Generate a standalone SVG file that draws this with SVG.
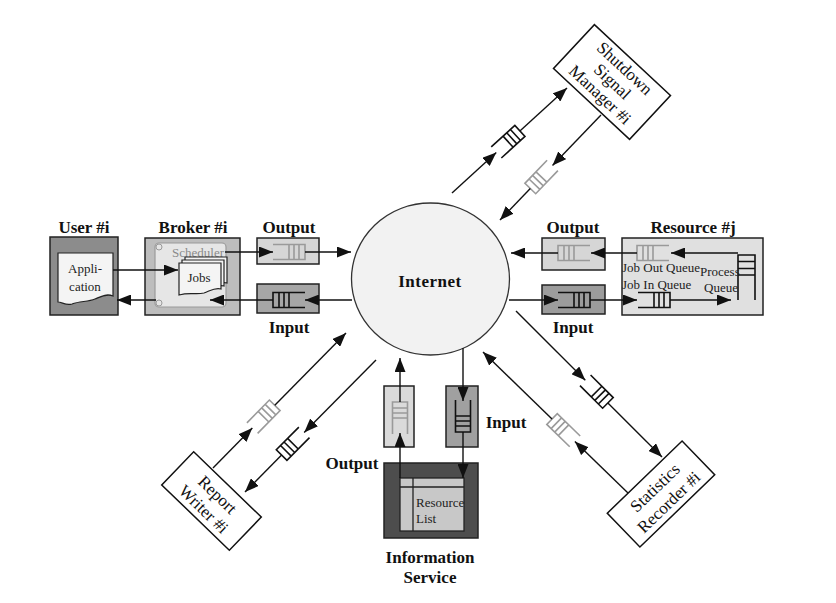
<svg xmlns="http://www.w3.org/2000/svg" xmlns:xlink="http://www.w3.org/1999/xlink" width="836" height="603" viewBox="0 0 836 603">
<style>
.box{stroke:#222;stroke-width:1.5}
.ln{stroke:#111;stroke-width:1.4;fill:none;marker-end:url(#ah)}
.lbl{font-family:"Liberation Serif","Times New Roman",serif;font-weight:bold;font-size:17px;text-anchor:middle;fill:#111}
.sm{font-family:"Liberation Serif","Times New Roman",serif;font-size:13px;fill:#222}
.rt{font-family:"Liberation Serif","Times New Roman",serif;font-size:17px;text-anchor:middle;fill:#111}
.qg{stroke:#9a9a9a;fill:none;stroke-width:1.6}
.qb{stroke:#111;fill:none;stroke-width:1.6}
.doc{fill:#f4f4f4;stroke:#222;stroke-width:1.2}
</style>
<defs>
<marker id="ah" markerUnits="userSpaceOnUse" markerWidth="14" markerHeight="11" refX="14" refY="5.5" orient="auto"><path d="M0,0 L14,5.5 L0,11 z" fill="#111"/></marker>
<g id="q"><path d="M-16,-7.5H16V7.5H-16M0,-7.5V7.5M5,-7.5V7.5M10,-7.5V7.5"/></g>
</defs>
<rect width="836" height="603" fill="#fff"/>

<g id="internet">
<ellipse cx="430.5" cy="279" rx="79" ry="76" fill="#f2f2f2" stroke="#333" stroke-width="1.3"/>
<text class="lbl" x="430" y="287" letter-spacing="0.5">Internet</text>
</g>

<g id="user">
<text class="lbl" x="84" y="233">User #i</text>
<rect class="box" x="50" y="237" width="68" height="78" fill="#8c8c8c"/>
<path class="doc" d="M58,253 H113 V296 C106,293 100,297 95,299 C88,302 80,301 72,304 C66,306 62,302 58,302 Z"/>
<text class="sm" x="85" y="273" text-anchor="middle">Appli-</text>
<text class="sm" x="85" y="291" text-anchor="middle">cation</text>
</g>

<g id="broker">
<text class="lbl" x="193" y="233">Broker #i</text>
<rect class="box" x="145" y="238" width="95" height="77" fill="#bdbdbd"/>
<rect x="155" y="243" width="71" height="64" rx="4" fill="#e6e6e6" stroke="#9a9a9a" stroke-width="1.2"/>
<circle cx="159" cy="247" r="3" fill="none" stroke="#9a9a9a"/>
<circle cx="159" cy="303" r="3" fill="none" stroke="#9a9a9a"/>
<text class="sm" x="198" y="257" text-anchor="middle" style="fill:#8a8a8a">Scheduler</text>
<path class="doc" d="M185,257 H227 V283 C221,281 216,285 210,287 C202,289 196,286 185,289 Z"/>
<path class="doc" d="M182,260 H224 V286 C218,284 213,288 207,290 C199,292 193,289 182,292 Z"/>
<path class="doc" d="M179,263 H221 V289 C215,287 210,291 204,293 C196,295 190,292 179,295 Z"/>
<text class="sm" x="199" y="282" text-anchor="middle">Jobs</text>
</g>

<g id="broker-output">
<text class="lbl" x="289" y="233">Output</text>
<rect class="box" x="257" y="238" width="62" height="26" fill="#d6d6d6"/>
<use xlink:href="#q" href="#q" class="qg" transform="translate(289,252)"/>
</g>

<g id="broker-input">
<rect class="box" x="257" y="284" width="62" height="29" fill="#a6a6a6"/>
<use xlink:href="#q" href="#q" class="qb" transform="translate(289,300) rotate(180)"/>
<text class="lbl" x="289" y="333">Input</text>
</g>

<g id="resource-output">
<text class="lbl" x="573" y="233">Output</text>
<rect class="box" x="542" y="238" width="63" height="32" fill="#d6d6d6"/>
<use xlink:href="#q" href="#q" class="qg" transform="translate(574,253) rotate(180)"/>
</g>

<g id="resource-input">
<rect class="box" x="542" y="285" width="63" height="29" fill="#9c9c9c"/>
<use xlink:href="#q" href="#q" class="qb" transform="translate(574,300)"/>
<text class="lbl" x="573" y="333">Input</text>
</g>

<g id="resource">
<text class="lbl" x="693" y="233">Resource #j</text>
<rect class="box" x="622" y="238" width="141" height="77" fill="#e0e0e0"/>
<use xlink:href="#q" href="#q" class="qg" transform="translate(653,253) rotate(180)"/>
<use xlink:href="#q" href="#q" class="qb" transform="translate(654,300)"/>
<path class="qb" d="M738,300V255H755V300M738,261.5H755M738,268.5H755M738,275H755"/>
<text class="sm" x="622" y="272">Job Out Queue</text>
<text class="sm" x="622" y="289">Job In Queue</text>
<text class="sm" x="700" y="276">Process</text>
<text class="sm" x="704" y="292">Queue</text>
</g>

<g id="info-output">
<rect class="box" x="384" y="386" width="30" height="61" fill="#dadada"/>
<use xlink:href="#q" href="#q" class="qg" transform="translate(400,418) rotate(-90)"/>
<text class="lbl" x="352" y="469">Output</text>
</g>

<g id="info-input">
<rect class="box" x="446" y="386" width="32" height="61" fill="#a0a0a0"/>
<use xlink:href="#q" href="#q" class="qb" transform="translate(463,416) rotate(90)"/>
<text class="lbl" x="506" y="428">Input</text>
</g>

<g id="information-service">
<rect class="box" x="384" y="463" width="94" height="75" fill="#4d4d4d"/>
<rect x="400" y="478" width="64" height="53" fill="#c8c8c8" stroke="#222" stroke-width="1.3"/>
<path d="M400,487H464M413,478V531" stroke="#222" stroke-width="1.3" fill="none"/>
<text class="sm" x="416" y="507">Resource</text>
<text class="sm" x="416" y="523">List</text>
<text class="lbl" x="430" y="563">Information</text>
<text class="lbl" x="430" y="583">Service</text>
</g>

<g id="shutdown-manager" transform="translate(612,82) rotate(43)">
<rect x="-52" y="-30" width="104" height="60" fill="#fff" stroke="#111" stroke-width="1.5"/>
<text class="rt" x="0" y="-13">Shutdown</text>
<text class="rt" x="0" y="5">Signal</text>
<text class="rt" x="0" y="23">Manager #i</text>
</g>

<g id="report-writer" transform="translate(211.5,501) rotate(44)">
<rect x="-47" y="-23" width="94" height="46" fill="#fff" stroke="#111" stroke-width="1.5"/>
<text class="rt" x="0" y="-3">Report</text>
<text class="rt" x="0" y="17">Writer #i</text>
</g>

<g id="statistics-recorder" transform="translate(661,494) rotate(-44)">
<rect x="-52" y="-23.5" width="104" height="47" fill="#fff" stroke="#111" stroke-width="1.5"/>
<text class="rt" x="0" y="-3">Statistics</text>
<text class="rt" x="0" y="17">Recorder #i</text>
</g>

<g id="connectors">
<line class="ln" x1="113" y1="270" x2="178" y2="270"/>
<line class="ln" x1="225" y1="252" x2="273" y2="252"/>
<line class="ln" x1="305" y1="252" x2="351" y2="252"/>
<line class="ln" x1="352" y1="300" x2="305" y2="300"/>
<line class="ln" x1="273" y1="300" x2="210" y2="300"/>
<line class="ln" x1="156" y1="300" x2="117" y2="300"/>

<line class="ln" x1="738" y1="253" x2="671" y2="253"/>
<line class="ln" x1="637" y1="253" x2="591" y2="253"/>
<line class="ln" x1="558" y1="253" x2="511" y2="253"/>
<line class="ln" x1="509" y1="300" x2="558" y2="300"/>
<line class="ln" x1="590" y1="300" x2="637" y2="300"/>
<line class="ln" x1="670" y1="300" x2="731" y2="300"/>

<line class="ln" x1="400" y1="478" x2="400" y2="433"/>
<line class="ln" x1="400" y1="402" x2="400" y2="358"/>
<line class="ln" x1="463" y1="348" x2="463" y2="401"/>
<line class="ln" x1="463" y1="432" x2="463" y2="478"/>

<line class="ln" x1="452" y1="193" x2="496.3" y2="152.5"/>
<use xlink:href="#q" href="#q" class="qb" transform="translate(508.1,141.7) rotate(-42.4)"/>
<line class="ln" x1="519.9" y1="130.9" x2="567" y2="88"/>

<line class="ln" x1="601" y1="115" x2="552.5" y2="165.4"/>
<use xlink:href="#q" href="#q" class="qg" transform="translate(541.4,177) rotate(133.9)"/>
<line class="ln" x1="530.3" y1="188.5" x2="500" y2="220"/>

<line class="ln" x1="213" y1="468" x2="252.3" y2="428.1"/>
<use xlink:href="#q" href="#q" class="qg" transform="translate(263.5,416.7) rotate(-45.4)"/>
<line class="ln" x1="274.8" y1="405.3" x2="346" y2="333"/>

<line class="ln" x1="376" y1="360" x2="304.2" y2="432.4"/>
<use xlink:href="#q" href="#q" class="qb" transform="translate(292.9,443.7) rotate(134.8)"/>
<line class="ln" x1="281.6" y1="455.1" x2="245" y2="492"/>

<line class="ln" x1="516" y1="311" x2="585.3" y2="380.3"/>
<use xlink:href="#q" href="#q" class="qb" transform="translate(596.6,391.6) rotate(45)"/>
<line class="ln" x1="607.9" y1="402.9" x2="662" y2="457"/>

<line class="ln" x1="628" y1="493" x2="574.9" y2="441.4"/>
<use xlink:href="#q" href="#q" class="qg" transform="translate(563.5,430.2) rotate(-135.8)"/>
<line class="ln" x1="552" y1="419.1" x2="483" y2="352"/>
</g>
</svg>
